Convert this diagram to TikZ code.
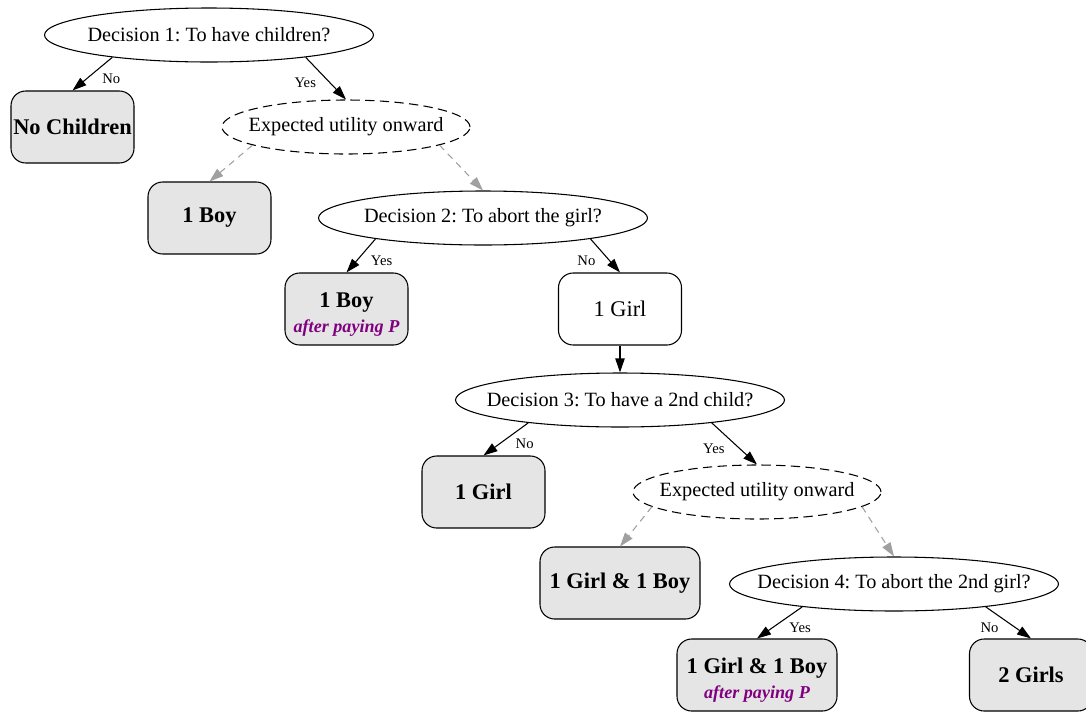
\documentclass[tikz,border=0pt]{standalone}
\usepackage{fontspec}
\setmainfont{Liberation Serif}
\usepackage{xcolor}
\usetikzlibrary{shapes.geometric,arrows.meta}
\definecolor{tgray}{RGB}{229,229,229}
\definecolor{tpurple}{RGB}{128,0,128}
\definecolor{tedge}{RGB}{160,160,160}
\newcommand{\payfont}{\fontsize{13.6}{16}\selectfont\bfseries\itshape\color{tpurple}}
\newcommand{\ovaltext}[1]{\makebox[0pt]{#1}}
\frenchspacing

\begin{document}
\begin{tikzpicture}[x=0.75pt, y=-0.75pt, line width=0.8pt]
  \tikzset{decision/.style={draw,ellipse,inner sep=0pt,minimum width=#1,minimum height=40.5pt,font=\fontsize{15.2}{18}\selectfont},
    decision/.default=246.75pt,
    onward/.style={decision=186pt,dash pattern=on 7pt off 4pt},
    outcome/.style={draw,rounded corners=11pt,inner sep=0pt,minimum width=#1,minimum height=54pt,fill=tgray,align=center,font=\fontsize{16.8}{20}\selectfont\bfseries},
    outcome/.default=92.25pt,
    choice/.style={-{Triangle[length=10.5pt,width=7pt]},black},
    expect/.style={-{Triangle[length=10.5pt,width=7pt]},tedge,dash pattern=on 5pt off 4pt},
    elabel/.style={font=\fontsize{11}{13}\selectfont,inner sep=2pt,yshift=-3.5pt}}
  \useasboundingbox (0,0) rectangle (1086,711);

  \node [decision] (d1) at (209,35) {\ovaltext{Decision 1: To have children?}}; % first choice
  \node [outcome] (nochild) at (72.5,127) {No Children};
  \node [onward] (eu1) at (346,127) {\ovaltext{Expected utility onward}};
  \node [outcome] (boy) at (209.5,218) {1 Boy};
  \node [decision] (d2) at (483,218) {\ovaltext{Decision 2: To abort the girl?}}; % second choice
  \node [outcome] (boyp) at (346.5,309) {\rule{0pt}{19pt}1 Boy\\[-1pt]{\payfont after paying P}};
  \node [outcome, fill=white, font=\fontsize{16.8}{20}\selectfont] (girl) at (620,309) {1 Girl};
  \node [decision] (d3) at (620,400) {\ovaltext{Decision 3: To have a 2nd child?}}; % third choice
  \node [outcome] (girlend) at (483.5,492) {1 Girl};
  \node [onward] (eu2) at (757,492) {\ovaltext{Expected utility onward}};
  \node [outcome=120pt] (gb) at (620,583) {1 Girl \& 1 Boy};
  \node [decision] (d4) at (894,584) {\ovaltext{Decision 4: To abort the 2nd girl?}}; % fourth choice
  \node [outcome=120pt] (gbp) at (757,675) {\rule{0pt}{19pt}1 Girl \& 1 Boy\\[-1pt]{\payfont after paying P}};
  \node [outcome] (girls) at (1031,675) {2 Girls};

  \draw [choice] (d1.193) -- node [elabel, right=5pt] {No} (nochild.north);
  \draw [choice] (d1.347) -- node [elabel, left=5pt] {Yes} (eu1.north);
  \draw [expect] (eu1.191) -- (boy.north);
  \draw [expect] (eu1.349) -- (d2.north);
  \draw [choice] (d2.191) -- node [elabel, right=5pt] {Yes} (boyp.north);
  \draw [choice] (d2.349) -- node [elabel, left=5pt] {No} (girl.north);
  \draw [choice] (girl.south) -- (d3.north);
  \draw [choice] (d3.194) -- node [elabel, right=5pt] {No} (girlend.north);
  \draw [choice] (d3.346) -- node [elabel, left=5pt] {Yes} (eu2.north);
  \draw [expect] (eu2.188) -- (gb.north);
  \draw [expect] (eu2.352) -- (d4.north);
  \draw [choice] (d4.194) -- node [elabel, right=5pt] {Yes} (gbp.north);
  \draw [choice] (d4.346) -- node [elabel, left=5pt] {No} (girls.north);
\end{tikzpicture}
\end{document}
